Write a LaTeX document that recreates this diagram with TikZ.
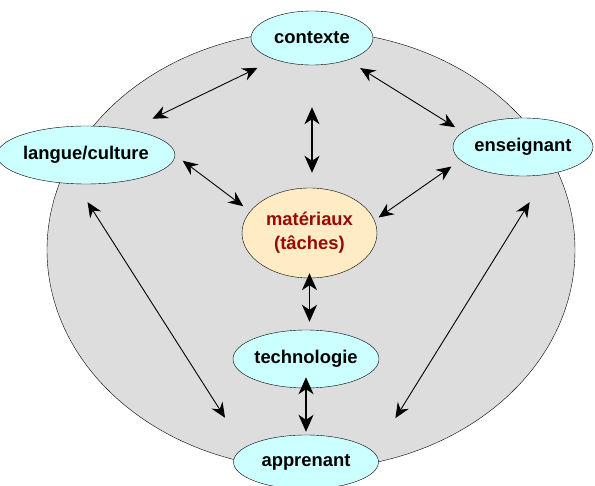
\documentclass[tikz,border=0pt]{standalone}
\usepackage{fontspec}
\setmainfont{Liberation Sans}
\usetikzlibrary{arrows.meta,shapes,positioning}
\definecolor{lightcyan}{RGB}{204,255,255}
\definecolor{paleorange}{RGB}{255,236,196}
\definecolor{darkred}{RGB}{150,10,10}
\definecolor{bggrey}{RGB}{221,221,221}

\begin{document}
\begin{tikzpicture}[x=1pt,y=-1pt,
    every node/.style={font=\bfseries\fontsize{18.4}{24}\selectfont},
    pole/.style={ellipse,draw=black,fill=lightcyan,thin,inner sep=0pt},
    centre/.style={ellipse,draw=black,fill=paleorange,thin,minimum width=135pt,minimum height=90pt,text=darkred,align=center,inner sep=0pt},
    link/.style 2 args={{Stealth[length=15pt,width=13pt,inset=5pt]}-{Stealth[length=15pt,width=13pt,inset=5pt]},line width=0.9pt,shorten <=#1,shorten >=#2},
    biglink/.style 2 args={{Stealth[length=17pt,width=15pt,inset=5pt]}-{Stealth[length=17pt,width=15pt,inset=5pt]},line width=1.6pt,shorten <=#1,shorten >=#2}]
    \useasboundingbox (0,0) rectangle (595,486);
    \fill[bggrey,draw=black,thin] (311,250) ellipse [x radius=264, y radius=219];

        \node[pole,minimum width=122pt,minimum height=54pt] (contexte) at (312,38)    {contexte};
        \node[pole,minimum width=152pt,minimum height=58pt] (langue)   at (86,155)    {langue/culture};
        \node[pole,minimum width=140pt,minimum height=58pt] (enseign)  at (523,147)   {enseignant};
        \node[centre]                                       (mat)      at (309.5,233) {matériaux\\(tâches)};
        \node[pole,minimum width=145pt,minimum height=58pt] (techno)   at (306,359)   {technologie};
        \node[pole,minimum width=145pt,minimum height=54pt] (appr)     at (306,462)   {apprenant};

    \path (langue.30)     edge[link={25pt}{19pt}]      (contexte.210.5)
          (contexte.328)  edge[link={15pt}{9pt}]       (enseign.166.7)
          (langue.east)   edge[link={9.5pt}{8.5pt}]    (mat.160.2)
          (enseign.192.5) edge[link={11pt}{5pt}]       (mat.11.6)
          (langue.251.8)  edge[link={21.5pt}{35.5pt}]  (appr.167.3)
          (enseign.311.7) edge[link={32.7pt}{40.4pt}]  (appr.8.2);
    \path (contexte.south) edge[biglink={42pt}{15pt}]  (contexte.south |- mat.north)
          (mat.south)      edge[biglink={-5pt}{8pt}]   (mat.south |- techno.north)
          (techno.south)   edge[biglink={-11pt}{3pt}]  (techno.south |- appr.north);
\end{tikzpicture}
\end{document}
